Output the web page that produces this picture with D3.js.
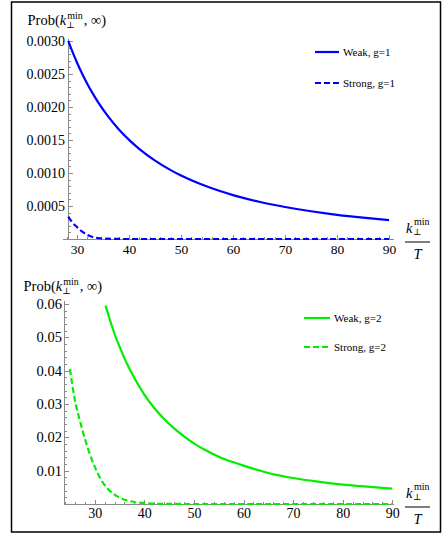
<!DOCTYPE html>
<html>
<head>
<meta charset="utf-8">
<script src="https://cdnjs.cloudflare.com/ajax/libs/d3/7.8.5/d3.min.js"></script>
<style>
  html, body { margin: 0; padding: 0; background: #fff; }
  svg { display: block; }
  .axis path, .axis line { stroke: #8a8a8a; stroke-width: 1; shape-rendering: crispEdges; }
  .axis text, .lbl { font-family: "Liberation Serif", "DejaVu Serif", "Times New Roman", serif; fill: #000; }
</style>
</head>
<body>
<svg id="chart" width="442" height="537"></svg>
<script>
// k_perp^min / T grid and probabilities, coupling g = 1
const kG1 = [28.3, 29, 30, 31, 32, 33, 34, 36, 38, 40, 42, 45, 48, 50, 55, 60, 65, 70, 75, 80, 85, 90];
const weakG1 = [0.00300, 0.002857, 0.00267, 0.00250, 0.002346, 0.002206, 0.002078, 0.001854, 0.001664, 0.001502, 0.001362,
                0.001187, 0.001043, 0.000961, 0.000794, 0.000665, 0.000564, 0.000485, 0.000420, 0.000366, 0.000323, 0.000287];
const strongG1 = [0.00034, 0.00026, 0.00018, 0.00011, 0.00006, 0.00003, 0.000015, 0.000004, 0.000001, 0, 0,
                  0, 0, 0, 0, 0, 0, 0, 0, 0, 0, 0];

// coupling g = 2
const kWeakG2 = [32.2, 33, 34, 35, 36, 38, 40, 42, 44, 46, 48, 50, 52, 55, 58, 60, 65, 70, 75, 80, 85, 90];
const weakG2 = [0.0595, 0.0555, 0.0510, 0.0472, 0.0437, 0.0378, 0.0328, 0.0288, 0.0255, 0.0227, 0.0203,
                0.0182, 0.0164, 0.0142, 0.0125, 0.0115, 0.0093, 0.0078, 0.0067, 0.0058, 0.0052, 0.0046];
const kStrongG2 = [25, 25.5, 26, 27, 28, 29, 30, 31, 32, 33, 34, 35, 36, 38, 40, 42, 45, 50, 60, 70, 80, 90];
const strongG2 = [0.0405, 0.0355, 0.0312, 0.0250, 0.0197, 0.0150, 0.0112, 0.0080, 0.0057, 0.0040, 0.0028,
                  0.0019, 0.0013, 0.0006, 0.0003, 0.0001, 0.00003, 0, 0, 0, 0, 0];

// tick values
const xTicks = [30, 40, 50, 60, 70, 80, 90];
const yTicksTop = [0.0005, 0.0010, 0.0015, 0.0020, 0.0025, 0.0030];
const yTicksBottom = [0.01, 0.02, 0.03, 0.04, 0.05, 0.06];
const legendTop = ["Weak, g=1", "Strong, g=1"];
const legendBottom = ["Weak, g=2", "Strong, g=2"];

const SERIF = '"Liberation Serif", "DejaVu Serif", "Times New Roman", serif';
const svg = d3.select("#chart");

// outer frame
svg.append("rect").attr("x", 11.5).attr("y", 2).attr("width", 429).attr("height", 530)
  .attr("fill", "none").attr("stroke", "#000").attr("stroke-width", 1.5);

function range(a, b, step) {
  const out = [];
  for (let v = a; v <= b + 1e-12; v += step) out.push(+v.toFixed(6));
  return out;
}

function panel(cfg) {
  const g = svg.append("g");
  const x = d3.scaleLinear().domain(cfg.xDomain).range(cfg.xRange);
  const y = d3.scaleLinear().domain(cfg.yDomain).range(cfg.yRange);
  const x0 = x(cfg.xOrigin), y0 = y(0);

  // minor ticks
  g.append("g").attr("class", "axis").attr("transform", `translate(0,${y0})`)
    .call(d3.axisBottom(x).tickValues(cfg.xMinor).tickSizeInner(-2.5).tickSizeOuter(0).tickFormat(""))
    .select(".domain").remove();
  g.append("g").attr("class", "axis").attr("transform", `translate(${x0},0)`)
    .call(d3.axisLeft(y).tickValues(cfg.yMinor).tickSizeInner(-2.5).tickSizeOuter(0).tickFormat(""))
    .select(".domain").remove();

  // major ticks + labels
  const xa = g.append("g").attr("class", "axis").attr("transform", `translate(0,${y0})`)
    .call(d3.axisBottom(x).tickValues(xTicks).tickSizeInner(-4.5).tickSizeOuter(0).tickPadding(cfg.xPad).tickFormat(d3.format("d")));
  xa.attr("font-family", SERIF).selectAll("text").attr("font-size", cfg.xFont).attr("font-family", SERIF);
  const ya = g.append("g").attr("class", "axis").attr("transform", `translate(${x0},0)`)
    .call(d3.axisLeft(y).tickValues(cfg.yTicks).tickSizeInner(-4.5).tickSizeOuter(0).tickPadding(3).tickFormat(cfg.yFmt));
  ya.attr("font-family", SERIF).selectAll("text").attr("font-size", cfg.yFont).attr("font-family", SERIF);
  ya.select(".domain").attr("d", `M0,${y0}V${cfg.yAxisTop}`);

  const line = (xs, ys) => d3.line().x((d, i) => x(xs[i])).y(d => y(d)).curve(d3.curveMonotoneX)(ys);

  g.append("path").attr("d", line(cfg.kWeak, cfg.weak)).attr("fill", "none")
    .attr("stroke", cfg.color).attr("stroke-width", 2.2);
  g.append("path").attr("d", line(cfg.kStrong, cfg.strong)).attr("fill", "none")
    .attr("stroke", cfg.color).attr("stroke-width", 2.2).attr("stroke-dasharray", "6,3");

  // legend
  cfg.legend.forEach((name, i) => {
    const ly = cfg.legY[i];
    g.append("line").attr("x1", cfg.legX[0]).attr("x2", cfg.legX[1]).attr("y1", ly).attr("y2", ly)
      .attr("stroke", cfg.color).attr("stroke-width", 2.2)
      .attr("stroke-dasharray", i === 1 ? "6,3" : null);
    g.append("text").attr("class", "lbl").attr("font-family", SERIF).attr("x", cfg.legX[1] + 4).attr("y", ly + 3.8)
      .attr("font-size", 11).text(name);
  });

  // y-axis title: Prob(k_perp^min, ∞)
  const txt = (xp, yp, size) => g.append("text").attr("class", "lbl").attr("font-family", SERIF)
    .attr("x", xp).attr("y", yp).attr("font-size", size);
  const t = txt(cfg.titleX, cfg.titleY, 14.5);
  t.append("tspan").text("Prob(");
  t.append("tspan").attr("font-style", "italic").text("k");
  const kEnd = cfg.titleX + t.node().getComputedTextLength() + 1;
  const sup = txt(kEnd, cfg.titleY - 6, 10).text("min");
  txt(kEnd - 1, cfg.titleY + 3, 9).text("⊥");
  const supEnd = kEnd + sup.node().getComputedTextLength();
  txt(supEnd + 1, cfg.titleY, 14.5).text(", ∞)");

  // x-axis title: k_perp^min / T
  const fx = 406;
  txt(fx, y0 - 6, 14.5).attr("font-style", "italic").text("k");
  txt(fx + 8, y0 - 14, 10).text("min");
  txt(fx + 7, y0 - 4, 9).text("⊥");
  g.append("line").attr("x1", fx - 1).attr("x2", fx + 24).attr("y1", y0 + 3).attr("y2", y0 + 3)
    .attr("stroke", "#000").attr("stroke-width", 1);
  txt(fx + 11.5, y0 + 20, 14.5).attr("font-style", "italic").attr("text-anchor", "middle").text("T");
}

panel({
  xDomain: [27.1, 90.8], xRange: [62, 393.2], xOrigin: 28.27,
  yDomain: [0, 0.00303], yRange: [239, 39], yAxisTop: 39,
  xMinor: range(28, 90, 2), yMinor: range(0.0001, 0.003, 0.0001),
  yTicks: yTicksTop, yFmt: d3.format(".4f"),
  xPad: 5, xFont: 13.5, yFont: 14,
  kWeak: kG1, weak: weakG1, kStrong: kG1, strong: strongG1,
  color: "#0000ff",
  legend: legendTop, legX: [315, 339], legY: [52, 83],
  titleX: 27.5, titleY: 25
});

panel({
  xDomain: [23.6, 90.2], xRange: [63, 393.3], xOrigin: 24,
  yDomain: [0, 0.0609], yRange: [504, 301], yAxisTop: 301,
  xMinor: range(24, 90, 2), yMinor: range(0.002, 0.06, 0.002),
  yTicks: yTicksBottom, yFmt: d3.format(".2f"),
  xPad: 4, xFont: 14, yFont: 14.5,
  kWeak: kWeakG2, weak: weakG2, kStrong: kStrongG2, strong: strongG2,
  color: "#00ee00",
  legend: legendBottom, legX: [304, 330], legY: [318, 347],
  titleX: 23.5, titleY: 291
});
</script>
</body>
</html>
